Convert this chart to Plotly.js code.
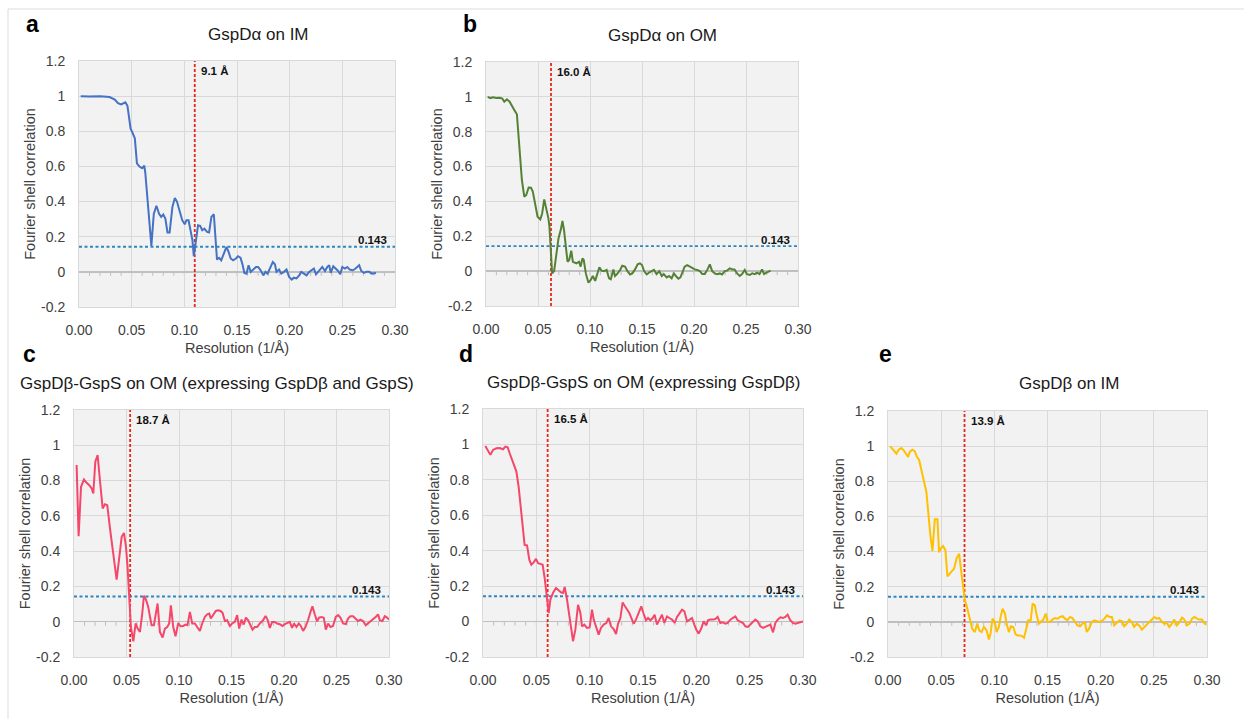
<!DOCTYPE html>
<html>
<head>
<meta charset="utf-8">
<script src="https://cdn.plot.ly/plotly-3.0.1.min.js"></script>
<style>html,body{margin:0;padding:0;background:#fff;}#chart{width:1244px;height:719px;}</style>
</head>
<body>
<div id="chart"></div>
<script>
// ---------- DATA ----------
const panelLetters = ["a", "b", "c", "d", "e"];
const panelTitles = ["GspDα on IM", "GspDα on OM", "GspDβ-GspS on OM (expressing GspDβ and GspS)", "GspDβ-GspS on OM (expressing GspDβ)", "GspDβ on IM"];
const resolutionsA = [9.1, 16.0, 18.7, 16.5, 13.9];
const resolutionLabels = ["9.1 Å", "16.0 Å", "18.7 Å", "16.5 Å", "13.9 Å"];
const threshold = 0.143;
const thresholdLabel = "0.143";
const xTickVals = [0, 0.05, 0.10, 0.15, 0.20, 0.25, 0.30];
const xTickText = ["0.00", "0.05", "0.10", "0.15", "0.20", "0.25", "0.30"];
const yTickVals = [1.2, 1, 0.8, 0.6, 0.4, 0.2, 0, -0.2];
const yTickText = ["1.2", "1", "0.8", "0.6", "0.4", "0.2", "0", "-0.2"];

const fscAx = [0.0016,0.010,0.020,0.029,0.034,0.037,0.040,0.044,0.046,0.0475,
  0.049,0.051,0.053,0.055,0.0576,0.060,0.062,0.063,0.0655,0.0687,
  0.071,0.0735,0.076,0.078,0.080,0.082,0.084,0.086,0.0887,0.091,
  0.093,0.0957,0.098,0.1004,0.102,0.104,0.106,0.1077,0.109,0.111,
  0.113,0.115,0.117,0.119,0.1216,0.1235,0.1257,0.128,0.130,0.131,
  0.133,0.135,0.1375,0.140,0.142,0.144,0.1463,0.149,0.151,0.1533,
  0.155,0.157,0.159,0.161,0.163,0.165,0.168,0.170,0.172,0.175,
  0.177,0.179,0.181,0.184,0.186,0.1875,0.190,0.192,0.1945,0.197,
  0.1995,0.202,0.204,0.2065,0.209,0.211,0.2135,0.216,0.2185,0.221,
  0.223,0.225,0.227,0.229,0.231,0.2335,0.2357,0.2376,0.239,0.2414,
  0.244,0.246,0.248,0.250,0.2525,0.2547,0.257,0.2598,0.262,0.264,
  0.266,0.268,0.2705,0.273,0.2756,0.2778,0.280,0.282];
const fscAy = [1.0,0.998,1.0,0.995,0.98,0.96,0.953,0.965,0.945,0.89,
  0.815,0.79,0.76,0.617,0.598,0.59,0.604,0.56,0.37,0.148,
  0.33,0.376,0.33,0.313,0.326,0.303,0.224,0.224,0.37,0.42,
  0.40,0.35,0.294,0.271,0.294,0.294,0.218,0.18,0.089,0.18,
  0.265,0.262,0.237,0.246,0.227,0.224,0.313,0.328,0.18,0.07,
  0.08,0.066,0.104,0.142,0.114,0.076,0.066,0.076,0.089,0.081,
  0.047,-0.006,-0.01,0.038,0,0.013,0.028,0.028,0.013,-0.02,
  0,-0.01,0.016,0.056,0.043,0,0.013,-0.01,0,0.013,
  -0.029,-0.044,-0.033,-0.037,-0.02,0,-0.01,-0.02,0,0.013,
  0.019,-0.014,0,0.009,0.028,0.005,0.028,0.038,-0.006,0.032,
  0.019,0.005,-0.014,0.028,0.019,0.028,0.013,0.009,0.016,0.028,
  0.038,0.005,-0.006,0,0,-0.01,-0.01,-0.006];

const fscBx = [0.0016,0.0042,0.0067,0.0099,0.0131,0.0157,0.0176,0.0201,0.0227,0.025,
  0.0272,0.0297,0.0323,0.0345,0.0368,0.0387,0.041,0.0432,0.045,0.0473,
  0.0496,0.0522,0.054,0.056,0.0579,0.06,0.061,0.0624,0.0636,0.0655,
  0.0675,0.0697,0.072,0.0735,0.075,0.077,0.0784,0.080,0.082,0.0835,
  0.0854,0.087,0.0895,0.091,0.0927,0.094,0.096,0.0985,0.1007,0.1027,
  0.105,0.107,0.109,0.111,0.1135,0.116,0.1183,0.120,0.1225,0.124,
  0.126,0.129,0.131,0.1337,0.136,0.1385,0.1407,0.1433,0.1458,0.148,
  0.150,0.152,0.1545,0.1567,0.159,0.1615,0.164,0.1666,0.169,0.171,
  0.1737,0.176,0.1785,0.1807,0.1826,0.185,0.187,0.189,0.191,0.1935,
  0.196,0.1986,0.2008,0.203,0.2056,0.208,0.2104,0.213,0.2152,0.2175,
  0.220,0.2222,0.2248,0.227,0.2296,0.2318,0.2344,0.237,0.239,0.2414,
  0.244,0.2462,0.2488,0.251,0.2536,0.256,0.2584,0.2606,0.263,0.2654,
  0.2674,0.2696,0.2722,0.2737];
const fscBy = [1.0,0.993,0.997,0.993,0.995,0.99,0.972,0.986,0.972,0.944,
  0.925,0.9,0.714,0.523,0.427,0.437,0.48,0.479,0.456,0.389,
  0.312,0.297,0.331,0.412,0.36,0.303,0.255,0.125,-0.013,0,
  0.102,0.188,0.24,0.288,0.236,0.102,0.054,0.064,0.117,0.054,
  0.049,0.045,0.054,0.026,0.073,0.064,-0.013,-0.066,-0.051,-0.028,
  -0.056,-0.013,0.022,0.003,0,0.007,-0.041,-0.047,0.01,-0.028,
  -0.017,0.007,0.031,0.026,0,-0.019,-0.013,0.01,0.039,0.045,
  0.035,0,-0.019,-0.009,0,0.007,-0.017,0,-0.028,-0.017,
  -0.036,-0.028,-0.041,-0.013,-0.028,-0.043,-0.036,-0.009,0.026,0.035,
  0.026,0.02,0.01,0.007,0,-0.017,-0.017,0.01,0.039,0,
  -0.013,-0.017,-0.013,-0.019,0,0.003,0.016,0.01,0.01,-0.013,
  -0.028,-0.017,0.007,-0.017,-0.022,-0.013,-0.017,-0.009,-0.017,0.01,
  -0.017,-0.009,0,0.003];

const fscCx = [0.0025,0.0044,0.0067,0.0095,0.012,0.0146,0.0168,0.0184,0.0203,0.0225,
  0.0247,0.0273,0.0295,0.0317,0.0343,0.0368,0.039,0.0406,0.0428,0.0454,
  0.0476,0.0495,0.051,0.0526,0.0542,0.0565,0.0587,0.0606,0.0628,0.065,
  0.0666,0.0685,0.0707,0.0723,0.0739,0.0761,0.078,0.0796,0.0818,0.0844,
  0.0866,0.0888,0.0907,0.0923,0.0945,0.0967,0.0993,0.1015,0.104,0.1062,
  0.1081,0.1104,0.1126,0.1151,0.1173,0.1199,0.1221,0.1246,0.1269,0.1288,
  0.1303,0.1326,0.1351,0.1373,0.1396,0.1415,0.1437,0.1459,0.1484,0.1506,
  0.1532,0.1554,0.1573,0.1595,0.1617,0.1637,0.1659,0.1681,0.170,0.1722,
  0.1744,0.177,0.1801,0.1824,0.1843,0.1865,0.1887,0.1912,0.1935,0.196,
  0.1985,0.2008,0.203,0.2055,0.2077,0.2096,0.2119,0.2141,0.216,0.2182,
  0.2204,0.2229,0.2252,0.2271,0.2293,0.2315,0.2334,0.2357,0.2379,0.2398,
  0.242,0.2442,0.2467,0.2493,0.2515,0.2537,0.2563,0.2588,0.261,0.2632,
  0.2658,0.268,0.2705,0.2728,0.2753,0.2778,0.28,0.2823,0.2848,0.2873,
  0.2896,0.2912,0.2937,0.296,0.2982,0.30];
const fscCy = [0.888,0.485,0.765,0.806,0.787,0.774,0.755,0.727,0.907,0.945,
  0.802,0.642,0.666,0.66,0.528,0.405,0.33,0.239,0.348,0.481,
  0.503,0.424,0.311,0.093,-0.03,-0.111,-0.01,-0.039,-0.058,0.046,
  0.147,0.126,0.084,0.031,-0.02,-0.02,0.037,0.103,-0.058,-0.09,
  -0.039,-0.03,-0.01,0.093,-0.03,-0.083,-0.007,-0.026,-0.024,-0.016,
  -0.02,0.055,-0.01,-0.01,-0.03,-0.052,-0.01,0.027,0.042,0.046,
  0.018,0.037,0.061,0.065,0.061,0.05,0.004,0.008,-0.024,-0.01,
  -0.001,0.037,-0.039,0.012,-0.016,0.023,0.008,-0.02,-0.045,-0.03,
  -0.03,-0.01,0.008,0.033,0.012,-0.035,-0.001,-0.001,-0.01,-0.014,
  -0.024,-0.014,-0.007,-0.001,-0.035,-0.01,-0.03,-0.01,-0.024,-0.052,
  -0.03,0.008,0.055,0.087,0.042,0.002,0.023,0.027,0.023,-0.045,
  -0.01,-0.03,-0.024,0.027,0.037,0.023,-0.01,-0.014,0.018,0.031,
  0.031,0.018,0.004,0.012,0.004,-0.02,-0.01,-0.001,0.012,0.027,
  0.042,0.008,0.004,0.031,0.023,0.012];

const fscDx = [0.0022,0.0044,0.0069,0.0094,0.0125,0.0156,0.0188,0.021,0.0231,0.025,
  0.0272,0.0294,0.0313,0.0334,0.0356,0.0375,0.039,0.0413,0.0434,0.0453,
  0.0475,0.0497,0.0516,0.0538,0.0559,0.0578,0.0594,0.0606,0.0616,0.0631,
  0.0656,0.0684,0.0709,0.0731,0.075,0.0766,0.0788,0.0813,0.0828,0.0844,
  0.0866,0.0891,0.0913,0.0928,0.095,0.0975,0.1,0.1022,0.1038,0.1059,
  0.1084,0.1106,0.1131,0.1156,0.1178,0.12,0.1225,0.1247,0.1266,0.1288,
  0.1309,0.1328,0.135,0.1372,0.1391,0.1413,0.1434,0.1459,0.1484,0.1506,
  0.1528,0.1547,0.1569,0.1591,0.1609,0.1631,0.1653,0.1678,0.17,0.1725,
  0.1747,0.1772,0.1797,0.1819,0.1844,0.1866,0.1888,0.1913,0.1938,0.1959,
  0.1981,0.2,0.2022,0.2044,0.2069,0.2091,0.2109,0.2131,0.2156,0.2178,
  0.22,0.2225,0.2247,0.2272,0.2294,0.2319,0.2341,0.2366,0.2388,0.2413,
  0.2438,0.2459,0.2484,0.2506,0.2531,0.2553,0.2575,0.26,0.2625,0.2647,
  0.2669,0.2694,0.2719,0.2741,0.2763,0.2788,0.2813,0.2834,0.2856,0.2881,
  0.2906,0.2928,0.295,0.2975,0.30];
const fscDy = [0.991,0.969,0.941,0.969,0.978,0.98,0.973,0.988,0.984,0.95,
  0.913,0.884,0.847,0.762,0.631,0.537,0.433,0.43,0.349,0.321,
  0.334,0.354,0.33,0.326,0.321,0.246,0.161,0.104,0.048,0.123,
  0.161,0.189,0.176,0.165,0.161,0.195,0.123,0.02,-0.055,-0.111,
  -0.046,0.095,0.048,-0.027,-0.017,-0.036,-0.033,0.067,0.011,-0.027,
  -0.074,-0.036,-0.017,-0.008,0.02,-0.027,-0.042,-0.07,-0.013,0.02,
  0.108,0.089,0.071,0.048,0.02,-0.012,0.011,0.048,0.086,0.044,
  0.007,0.02,0.007,0.02,0.039,-0.017,0.011,0.039,-0.008,0.029,
  0.02,0.011,-0.008,0.026,0.048,0.067,0.058,0.001,0.011,0.02,
  -0.017,-0.046,-0.068,-0.042,0.001,-0.021,0.007,0.011,0.011,0.014,
  0.026,-0.008,-0.004,-0.012,-0.008,0.011,0.02,0.029,0.007,0.001,
  -0.008,-0.027,-0.03,-0.017,0.001,0.011,0.001,-0.027,-0.036,-0.03,
  -0.027,-0.017,-0.061,-0.008,0.011,0.024,0.02,0.026,0.039,0.007,
  -0.008,-0.012,-0.008,-0.003,0.001];

const fscEx = [0.0022,0.0047,0.0079,0.01,0.0126,0.0148,0.0167,0.0189,0.0204,0.0229,
  0.0251,0.0273,0.0292,0.0314,0.0336,0.0361,0.0377,0.0393,0.040,0.0418,
  0.044,0.0465,0.048,0.0496,0.0518,0.054,0.0559,0.0581,0.0603,0.0622,
  0.0644,0.0669,0.0691,0.0707,0.0723,0.0738,0.0754,0.077,0.0792,0.0817,
  0.0839,0.0858,0.088,0.0902,0.0927,0.0949,0.0964,0.0983,0.1005,0.1021,
  0.1043,0.1059,0.1078,0.11,0.1115,0.1137,0.1156,0.1178,0.12,0.1219,
  0.1241,0.1263,0.1279,0.1297,0.1319,0.1341,0.136,0.1382,0.1398,0.142,
  0.1439,0.1461,0.1483,0.1502,0.1524,0.1546,0.1571,0.1596,0.1618,0.1643,
  0.1665,0.1687,0.1712,0.1734,0.1759,0.1781,0.1806,0.1828,0.1853,0.1869,
  0.1891,0.1916,0.1938,0.1963,0.1989,0.2011,0.2036,0.2058,0.2083,0.2105,
  0.2127,0.2152,0.2174,0.2199,0.2221,0.2246,0.2268,0.2293,0.2315,0.234,
  0.2362,0.2388,0.241,0.2435,0.2457,0.2482,0.2504,0.2529,0.2551,0.2576,
  0.2598,0.2623,0.2645,0.267,0.2692,0.2717,0.2742,0.2765,0.2787,0.2812,
  0.2837,0.2859,0.2881,0.2906,0.2928,0.2953,0.2976,0.2995];
const fscEy = [0.999,0.98,0.957,0.98,0.989,0.976,0.961,0.938,0.967,0.98,
  0.972,0.938,0.923,0.872,0.806,0.739,0.616,0.54,0.483,0.403,
  0.584,0.584,0.396,0.417,0.432,0.407,0.259,0.274,0.289,0.303,
  0.36,0.388,0.274,0.189,0.123,0.094,0.056,0.018,-0.039,-0.058,
  -0.01,-0.048,-0.058,-0.029,-0.048,-0.101,-0.067,0.018,-0.001,-0.058,
  -0.029,0.028,0.075,0.047,-0.01,-0.058,-0.025,-0.029,-0.071,-0.077,
  -0.077,-0.082,-0.09,-0.048,0.009,0.005,0.104,0.094,0.037,-0.01,
  -0.001,0.013,0.047,-0.001,-0.001,0.013,0.022,0.018,0.028,0.032,
  0.018,0.009,0.028,0.022,-0.001,-0.02,-0.025,-0.01,-0.006,-0.058,
  -0.039,-0.001,0.009,0.005,-0.001,0.005,0.018,0.037,0.028,0.028,
  -0.02,-0.006,0.009,0.005,-0.025,-0.01,0.013,-0.001,-0.029,-0.01,
  -0.02,-0.044,-0.029,-0.01,-0.001,0.013,0.028,0.018,0.022,-0.001,
  -0.01,-0.006,-0.029,-0.01,0.013,-0.02,-0.001,0.024,0.013,-0.02,
  -0.01,0.018,0.028,0.018,0.013,0.013,-0.01,-0.016];

const seriesX = [fscAx, fscBx, fscCx, fscDx, fscEx];
const seriesY = [fscAy, fscBy, fscCy, fscDy, fscEy];

// ---------- STYLE / LAYOUT ----------
const W = 1244, H = 719;
const lineColors = ["#4472C4", "#548235", "#F5476A", "#F5476A", "#FFC000"];
// plot-area boxes in pixels [left, right, top, bottom]
const boxes = [
  [79, 395, 61, 307],
  [486, 798, 62, 306],
  [74, 389, 410, 657],
  [483, 803, 409, 657],
  [888, 1207, 411, 657]
];
const titlePos = [[258, 34], [663, 35], [217, 383], [643, 382], [1069, 383]];
const letterPos = [[32, 24], [470, 24], [30, 354], [466, 354], [885, 354]];
const FONT = "Liberation Sans, Arial, sans-serif";

const traces = [];
const layout = {
  width: W, height: H,
  margin: {l: 0, r: 0, t: 0, b: 0},
  paper_bgcolor: "#ffffff",
  plot_bgcolor: "rgba(0,0,0,0)",
  showlegend: false,
  font: {family: FONT, color: "#404040"},
  annotations: [],
  shapes: [
    {type: "line", xref: "paper", yref: "paper", x0: 8 / W, x1: 1, y0: 1 - 9 / H, y1: 1 - 9 / H, line: {color: "#dddddd", width: 1}},
    {type: "line", xref: "paper", yref: "paper", x0: 8 / W, x1: 8 / W, y0: 0, y1: 1 - 9 / H, line: {color: "#dddddd", width: 1}}
  ]
};

for (let i = 0; i < 5; i++) {
  const n = i === 0 ? "" : String(i + 1);
  const xa = "x" + n, ya = "y" + n;
  const b = boxes[i];
  layout["xaxis" + n] = {
    domain: [b[0] / W, b[1] / W], anchor: ya,
    range: [0, 0.30], tickvals: xTickVals, ticktext: xTickText,
    showgrid: true, gridcolor: "#d9d9d9", gridwidth: 1,
    zeroline: false, showline: true, linecolor: "#d9d9d9", mirror: true,
    ticks: "", ticklabelstandoff: 10,
    tickfont: {family: FONT, size: 14, color: "#404040"},
    title: {text: "Resolution (1/Å)", font: {family: FONT, size: 14.5, color: "#404040"}, standoff: 6},
    fixedrange: true
  };
  layout["yaxis" + n] = {
    domain: [1 - b[3] / H, 1 - b[2] / H], anchor: xa,
    range: [-0.2, 1.2], tickvals: yTickVals, ticktext: yTickText,
    showgrid: true, gridcolor: "#d9d9d9", gridwidth: 1,
    zeroline: true, zerolinecolor: "#bfbfbf", zerolinewidth: 1.3,
    showline: true, linecolor: "#d9d9d9", mirror: true,
    ticks: "", ticklabelstandoff: 10,
    tickfont: {family: FONT, size: 14, color: "#404040"},
    title: {text: "Fourier shell correlation", font: {family: FONT, size: 14.5, color: "#404040"}, standoff: 2},
    fixedrange: true
  };

  // background of plot area
  layout.shapes.push({type: "rect", xref: xa + " domain", yref: ya + " domain", x0: 0, x1: 1, y0: 0, y1: 1,
    fillcolor: "#f2f2f2", line: {width: 0}, layer: "below"});

  // small ticks on the zero line
  for (let t = 1; t < 30; t++) {
    layout.shapes.push({type: "line", xref: xa, yref: ya, ysizemode: "pixel", yanchor: 0,
      x0: t / 100, x1: t / 100, y0: 0, y1: -4, line: {color: "#bfbfbf", width: 1}, layer: "below"});
  }

  // threshold line
  traces.push({x: [0, 0.30], y: [threshold, threshold], xaxis: xa, yaxis: ya, mode: "lines",
    line: {color: "#2E86C1", width: 1.8, dash: "3px,2.5px"}, hoverinfo: "skip"});
  // resolution line
  const rx = 1 / resolutionsA[i];
  traces.push({x: [rx, rx], y: [-0.2, 1.2], xaxis: xa, yaxis: ya, mode: "lines",
    line: {color: "#E8251A", width: 1.8, dash: "3px,2px"}, hoverinfo: "skip"});
  // FSC curve
  traces.push({x: seriesX[i], y: seriesY[i], xaxis: xa, yaxis: ya, mode: "lines",
    line: {color: lineColors[i], width: 2}, name: panelTitles[i]});

  // labels
  layout.annotations.push({xref: xa, yref: ya, x: rx, y: 1.145, xanchor: "left", yanchor: "middle", xshift: 4,
    text: "<b>" + resolutionLabels[i] + "</b>", showarrow: false, font: {family: FONT, size: 11.5, color: "#111111"}});
  layout.annotations.push({xref: xa, yref: ya, x: 0.294, y: 0.18, xanchor: "right", yanchor: "middle",
    text: "<b>" + thresholdLabel + "</b>", showarrow: false, font: {family: FONT, size: 11.5, color: "#111111"}});
  layout.annotations.push({xref: "paper", yref: "paper", x: titlePos[i][0] / W, y: 1 - titlePos[i][1] / H,
    xanchor: "center", yanchor: "middle", text: panelTitles[i], showarrow: false,
    font: {family: FONT, size: 17, color: "#1a1a1a"}});
  layout.annotations.push({xref: "paper", yref: "paper", x: letterPos[i][0] / W, y: 1 - letterPos[i][1] / H,
    xanchor: "center", yanchor: "middle", text: "<b>" + panelLetters[i] + "</b>", showarrow: false,
    font: {family: FONT, size: 23, color: "#000000"}});
}

Plotly.newPlot("chart", traces, layout, {staticPlot: true, displayModeBar: false});
</script>
</body>
</html>
